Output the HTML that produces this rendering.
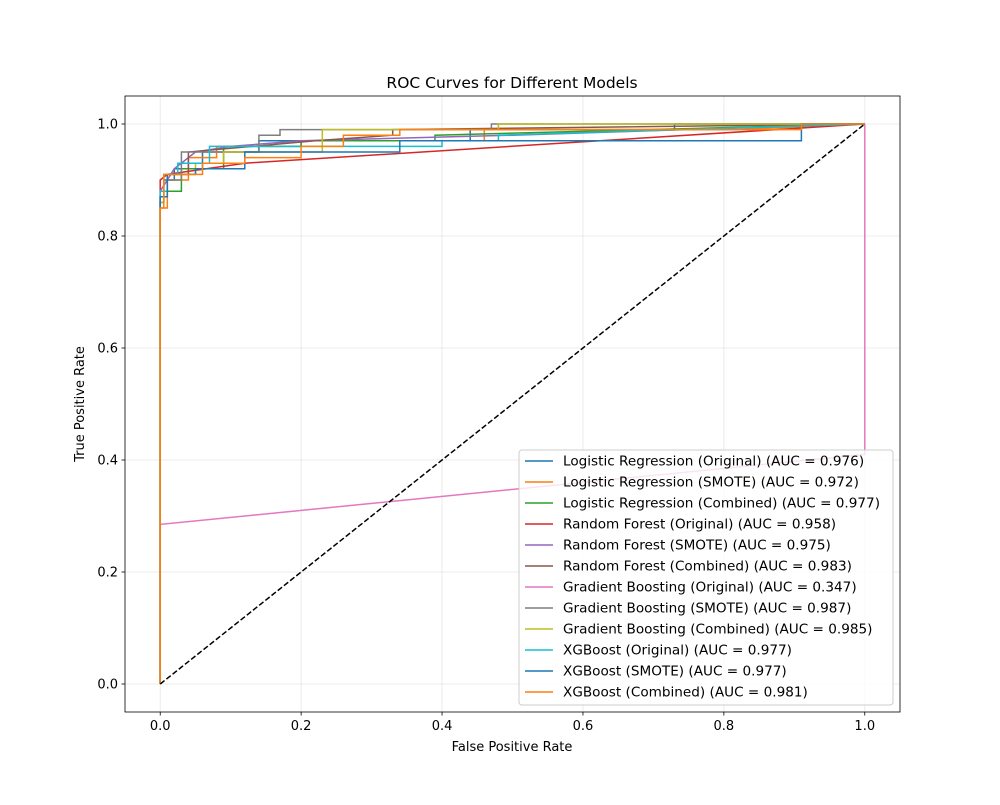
<!DOCTYPE html>
<html><head><meta charset="utf-8"><style>
body{margin:0;background:#fff;font-family:"Liberation Sans","DejaVu Sans",sans-serif}
text{font-family:"DejaVu Sans","Liberation Sans",sans-serif}
</style></head><body>
<svg id="chart" width="1000" height="800">
<rect width="1000" height="800" fill="#fff"/>
</svg>
<script>
const modelNames=["Logistic Regression (Original) (AUC = 0.976)","Logistic Regression (SMOTE) (AUC = 0.972)","Logistic Regression (Combined) (AUC = 0.977)","Random Forest (Original) (AUC = 0.958)","Random Forest (SMOTE) (AUC = 0.975)","Random Forest (Combined) (AUC = 0.983)","Gradient Boosting (Original) (AUC = 0.347)","Gradient Boosting (SMOTE) (AUC = 0.987)","Gradient Boosting (Combined) (AUC = 0.985)","XGBoost (Original) (AUC = 0.977)","XGBoost (SMOTE) (AUC = 0.977)","XGBoost (Combined) (AUC = 0.981)"];
const colors=["#1f77b4","#ff7f0e","#2ca02c","#d62728","#9467bd","#8c564b","#e377c2","#7f7f7f","#bcbd22","#17becf","#1f77b4","#ff7f0e"];
const fprs=[
[0,0,0.005,0.005,0.02,0.02,0.06,0.06,0.14,0.14,0.44,0.44,0.73,0.73,1],
[0,0,0.01,0.01,0.04,0.04,0.08,0.08,0.2,0.2,0.46,0.46,0.82,0.82,1],
[0,0,0.005,0.005,0.03,0.03,0.09,0.09,0.2,0.2,0.39,0.39,1],
[0,0,0.01,0.12,1],
[0,0,0.02,0.05,0.1,0.2,0.5,1],
[0,0,0.01,0.01,0.04,0.04,0.13,0.22,0.33,0.33,1],
[0,0,1,1],
[0,0,0.005,0.005,0.03,0.03,0.14,0.14,0.17,0.17,0.47,0.47,1],
[0,0,0.005,0.005,0.05,0.05,0.09,0.09,0.23,0.23,0.48,0.48,1],
[0,0,0.01,0.01,0.025,0.025,0.07,0.07,0.4,0.4,0.48,0.48,1],
[0,0,0.01,0.01,0.05,0.05,0.12,0.12,0.34,0.34,0.91,0.91,1],
[0,0,0.005,0.005,0.06,0.06,0.12,0.12,0.2,0.2,0.26,0.26,0.34,0.34,0.91,0.91,1]];
const tprs=[
[0,0.86,0.86,0.9,0.9,0.92,0.92,0.95,0.95,0.97,0.97,0.99,0.99,1,1],
[0,0.85,0.85,0.9,0.9,0.94,0.94,0.96,0.96,0.97,0.97,0.99,0.99,0.99,1],
[0,0.86,0.86,0.88,0.88,0.92,0.92,0.96,0.96,0.97,0.97,0.98,1],
[0,0.9,0.91,0.93,1],
[0,0.88,0.92,0.95,0.96,0.97,0.98,1],
[0,0.87,0.87,0.91,0.91,0.95,0.96,0.97,0.98,0.99,1],
[0,0.285,0.41,1],
[0,0.87,0.87,0.9,0.9,0.95,0.95,0.98,0.98,0.99,0.99,1,1],
[0,0.86,0.86,0.91,0.91,0.93,0.93,0.95,0.95,0.99,0.99,1,1],
[0,0.88,0.88,0.91,0.91,0.93,0.93,0.96,0.96,0.97,0.97,0.98,1],
[0,0.87,0.87,0.91,0.91,0.92,0.92,0.95,0.95,0.97,0.97,1,1],
[0,0.85,0.85,0.91,0.91,0.93,0.93,0.94,0.94,0.96,0.96,0.98,0.98,0.99,0.99,1,1]];
const xTicks=[0,0.2,0.4,0.6,0.8,1.0];
const yTicks=[0,0.2,0.4,0.6,0.8,1.0];
const NS="http://www.w3.org/2000/svg";
const svg=document.getElementById('chart');
const L=125,R=900,T=96,B=712;
const sx=v=>L+(v+0.05)/1.1*(R-L);
const sy=v=>B-(v+0.05)/1.1*(B-T);
function mk(tag,attrs,parent){const e=document.createElementNS(NS,tag);for(const k in attrs)e.setAttribute(k,attrs[k]);(parent||svg).appendChild(e);return e;}
xTicks.forEach(t=>{
 const g=mk('line',{x1:sx(t),x2:sx(t),y1:T,y2:B,stroke:'#b0b0b0','stroke-opacity':0.3,'stroke-width':0.8});
 
 
 mk('line',{x1:sx(t),x2:sx(t),y1:B,y2:B+3.5,stroke:'#000','stroke-width':0.8});
 const tx=mk('text',{x:sx(t),y:B+18,'text-anchor':'middle','font-size':13});tx.textContent=t.toFixed(1);
 
 
});
yTicks.forEach(t=>{
 const g=mk('line',{x1:L,x2:R,y1:sy(t),y2:sy(t),stroke:'#b0b0b0','stroke-opacity':0.3,'stroke-width':0.8});
 
 
 mk('line',{x1:L-3.5,x2:L,y1:sy(t),y2:sy(t),stroke:'#000','stroke-width':0.8});
 const tx=mk('text',{x:L-7,y:sy(t)+4.5,'text-anchor':'end','font-size':13});tx.textContent=t.toFixed(1);
 
 
});
fprs.forEach((xs,i)=>{
 const d=xs.map((x,j)=>(j?'L':'M')+sx(x).toFixed(1)+','+sy(tprs[i][j]).toFixed(1)).join('');
 const p=mk('path',{d:d,fill:'none',stroke:colors[i],'stroke-width':1.5});
 
 
});
const diag=mk('line',{x1:sx(0),y1:sy(0),x2:sx(1),y2:sy(1),stroke:'#000','stroke-width':1.5,'stroke-dasharray':'5.5,2.4'});


const frame=mk('rect',{x:L,y:T,width:R-L,height:B-T,fill:'none',stroke:'#000','stroke-width':0.8});


const lg=mk('g',{});


mk('rect',{x:519,y:450,width:374,height:255,rx:3,fill:'#fff','fill-opacity':0.8,stroke:'#ccc'},lg);
modelNames.forEach((n,i)=>{
 const y=461+i*21;
 const e=mk('g',{},lg);
 
 
 mk('line',{x1:525,x2:553,y1:y,y2:y,stroke:colors[i],'stroke-width':1.5},e);
 const t=mk('text',{x:563,y:y+4.5,'font-size':13.6},e);t.textContent=n;
});
const title=mk('text',{x:512,y:88,'text-anchor':'middle','font-size':15.5});title.textContent='ROC Curves for Different Models';


const xl=mk('text',{x:512,y:751,'text-anchor':'middle','font-size':13});xl.textContent='False Positive Rate';


const yl=mk('text',{x:0,y:0,'text-anchor':'middle','font-size':13,transform:'translate(84,404) rotate(-90)'});yl.textContent='True Positive Rate';


</script>
</body></html>
